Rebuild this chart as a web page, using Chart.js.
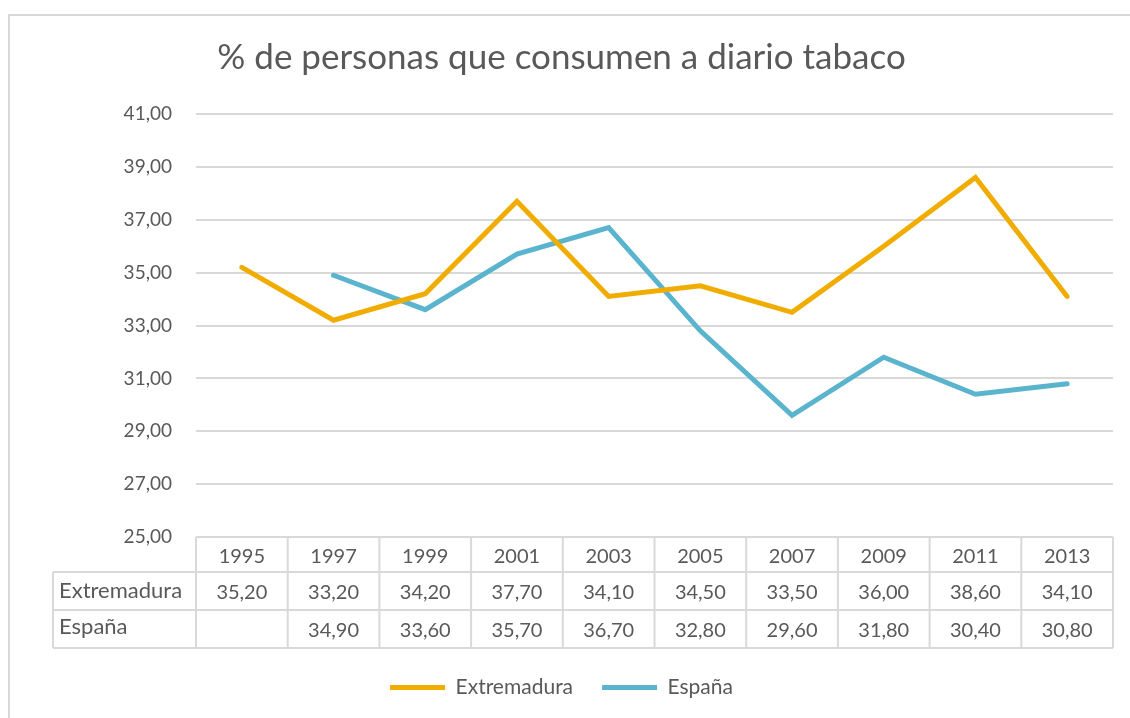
<!DOCTYPE html>
<html lang="es">
<head>
<meta charset="UTF-8">
<title>% de personas que consumen a diario tabaco</title>
<script src="https://cdn.jsdelivr.net/npm/chart.js"></script>
<style>
  html, body { margin: 0; padding: 0; background: #fff; overflow: hidden; }
  .grafico { width: 1130px; height: 718px; position: relative; }
</style>
</head>
<body>
<div class="grafico">
  <canvas id="myChart"></canvas>
</div>

<script>
// datos
var anios = ['1995', '1997', '1999', '2001', '2003', '2005', '2007', '2009', '2011', '2013'];
var extremadura = [35.2, 33.2, 34.2, 37.7, 34.1, 34.5, 33.5, 36.0, 38.6, 34.1];
var espana = [null, 34.9, 33.6, 35.7, 36.7, 32.8, 29.6, 31.8, 30.4, 30.8];
var yMin = 25, yMax = 41, yPaso = 2;

var gris = '#595959';
var lineaGris = '#d9d9d9';
var fuente = 'Lato, "Open Sans", sans-serif';

function coma(v) {
  return v.toFixed(2).replace('.', ',');
}

// marco del grafico + tabla de datos debajo del eje
var tablaDatos = {
  id: 'tablaDatos',
  beforeDraw: function (chart) {
    var ctx = chart.ctx;
    ctx.save();
    ctx.strokeStyle = lineaGris;
    ctx.lineWidth = 2;
    ctx.strokeRect(9, 15, 3000, 3000);
    ctx.restore();
  },
  afterDraw: function (chart) {
    var ctx = chart.ctx;
    var xs = chart.scales.x;
    var area = chart.chartArea;
    var n = anios.length;
    var colW = (xs.right - xs.left) / n;
    var top = area.bottom;
    var filaH = [35, 38, 38];
    var labelLeft = 53;
    var y1 = top + filaH[0], y2 = y1 + filaH[1], y3 = y2 + filaH[2];

    ctx.save();
    ctx.strokeStyle = lineaGris;
    ctx.lineWidth = 2;
    ctx.beginPath();
    // horizontales
    ctx.moveTo(xs.left, top); ctx.lineTo(xs.right, top);
    ctx.moveTo(labelLeft, y1); ctx.lineTo(xs.right, y1);
    ctx.moveTo(labelLeft, y2); ctx.lineTo(xs.right, y2);
    ctx.moveTo(labelLeft, y3); ctx.lineTo(xs.right, y3);
    // verticales
    ctx.moveTo(labelLeft, y1); ctx.lineTo(labelLeft, y3);
    for (var i = 0; i <= n; i++) {
      var x = xs.left + i * colW;
      ctx.moveTo(x, top); ctx.lineTo(x, y3);
    }
    ctx.stroke();

    ctx.fillStyle = gris;
    ctx.font = '20px ' + fuente;
    ctx.textBaseline = 'middle';
    ctx.textAlign = 'center';
    for (var j = 0; j < n; j++) {
      var cx = xs.getPixelForValue(j);
      ctx.fillText(anios[j], cx, top + filaH[0] / 2 + 2);
      if (extremadura[j] != null) ctx.fillText(coma(extremadura[j]), cx, y1 + filaH[1] / 2 + 2);
      if (espana[j] != null) ctx.fillText(coma(espana[j]), cx, y2 + filaH[2] / 2 + 2);
    }
    ctx.font = '22px ' + fuente;
    ctx.textAlign = 'left';
    ctx.fillText('Extremadura', labelLeft + 6, y1 + filaH[1] / 2);
    ctx.fillText('España', labelLeft + 6, y2 + filaH[2] / 2 - 2);
    ctx.restore();
  }
};

new Chart(document.getElementById('myChart'), {
  type: 'line',
  data: {
    labels: anios,
    datasets: [{
      label: 'Extremadura',
      data: extremadura,
      borderColor: '#F0AD00',
      backgroundColor: '#F0AD00',
      borderWidth: 5,
      pointRadius: 0,
      pointStyle: 'line',
      borderCapStyle: 'round',
      tension: 0
    },
    {
      label: 'España',
      data: espana,
      borderColor: '#5BB4CD',
      backgroundColor: '#5BB4CD',
      borderWidth: 5,
      pointRadius: 0,
      pointStyle: 'line',
      borderCapStyle: 'round',
      tension: 0
    }]
  },
  options: {
    responsive: true,
    maintainAspectRatio: false,
    animation: false,
    layout: { padding: { left: 10, right: 17, top: 0, bottom: 10 } },
    plugins: {
      title: {
        display: true,
        text: '% de personas que consumen a diario tabaco',
        color: gris,
        font: { family: fuente, size: 35, weight: 'normal' },
        padding: { top: 37, bottom: 35 }
      },
      legend: {
        position: 'bottom',
        labels: {
          color: gris,
          font: { family: fuente, size: 21 },
          usePointStyle: true,
          pointStyleWidth: 55,
          boxHeight: 10,
          padding: 29
        }
      },
      tooltip: { enabled: false }
    },
    scales: {
      x: {
        offset: true,
        grid: { display: false },
        border: { display: false },
        ticks: { display: false },
        afterFit: function (scale) { scale.height = 111; }
      },
      y: {
        min: yMin,
        max: yMax,
        grid: { color: lineaGris, lineWidth: 2, drawTicks: false },
        border: { display: false },
        ticks: {
          stepSize: yPaso,
          color: gris,
          padding: 24,
          font: { family: fuente, size: 19 },
          callback: function (v) { return coma(v); }
        },
        afterFit: function (scale) { scale.width = 186; }
      }
    }
  },
  plugins: [tablaDatos]
});
</script>
</body>
</html>
